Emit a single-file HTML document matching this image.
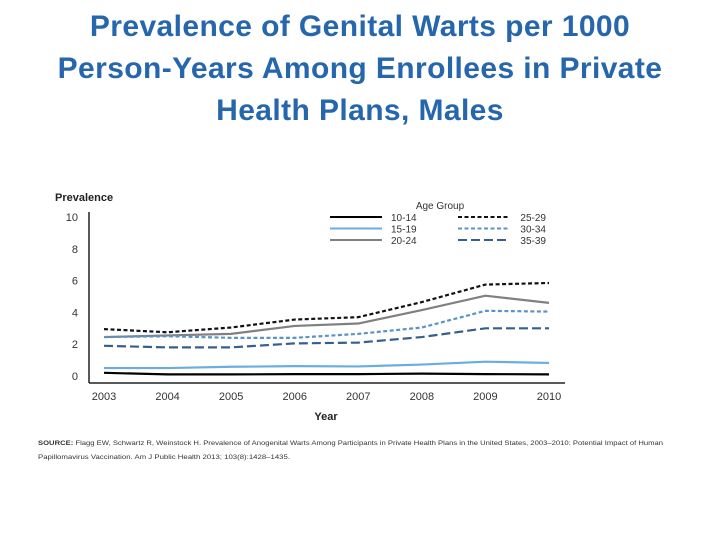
<!DOCTYPE html>
<html><head><meta charset="utf-8"><style>
body{margin:0;background:#fff;width:720px;height:540px;overflow:hidden;font-family:"Liberation Sans",sans-serif}
.t{position:absolute;left:0;width:720px;text-align:center;color:#2566ad;font-weight:bold;font-size:30px;letter-spacing:0.4px;line-height:42px;top:6px}
</style></head><body>
<div class="t">Prevalence of Genital Warts per 1000<br>Person-Years Among Enrollees in Private<br>Health Plans, Males</div>
<svg id="c" width="720" height="540" style="position:absolute;left:0;top:0"></svg>
<script>
const years=[2003,2004,2005,2006,2007,2008,2009,2010];
const yTicks=[0,2,4,6,8,10];
const s1014=[0.2,0.1,0.1,0.12,0.12,0.15,0.12,0.1];
const s1519=[0.5,0.5,0.58,0.62,0.6,0.72,0.9,0.82];
const s2024=[2.45,2.55,2.65,3.15,3.3,4.15,5.05,4.6];
const s2529=[2.95,2.75,3.05,3.55,3.7,4.65,5.75,5.85];
const s3034=[2.45,2.5,2.4,2.4,2.65,3.05,4.1,4.05];
const s3539=[1.9,1.8,1.8,2.05,2.1,2.45,3.0,3.0];
const names=["10-14","15-19","20-24","25-29","30-34","35-39"];
const NS="http://www.w3.org/2000/svg",svg=document.getElementById('c');
const X=i=>104+i*(549-104)/7, Y=v=>376-v*15.9;
function mk(t,a,txt){const e=document.createElementNS(NS,t);for(const k in a)e.setAttribute(k,a[k]);if(txt!=null)e.textContent=txt;svg.appendChild(e);return e;}
let e;
e=mk('line',{x1:89,y1:212,x2:89,y2:383,stroke:'#222','stroke-width':1.5});


e=mk('line',{x1:89,y1:383,x2:565,y2:383,stroke:'#222','stroke-width':1.5});


yTicks.forEach(v=>{e=mk('text',{x:78,y:Y(v)+4,'text-anchor':'end','font-size':11,fill:'#333'},v);

});
years.forEach((y,i)=>{e=mk('text',{x:X(i),y:400,'text-anchor':'middle','font-size':11,fill:'#333'},y);

});
e=mk('text',{x:55,y:201,'font-size':11,'font-weight':'bold',fill:'#222'},'Prevalence');


e=mk('text',{x:326,y:420,'text-anchor':'middle','font-size':11,'font-weight':'bold',fill:'#222'},'Year');


const series=[s1014,s1519,s2024,s2529,s3034,s3539];
const styles=[['#000','none'],['#6aaee0','none'],['#808080','none'],['#111','4,2.5'],['#5b93c7','4,2.5'],['#355f8c','9,4']];
series.forEach((s,k)=>{
 e=mk('polyline',{points:s.map((v,i)=>X(i)+','+Y(v)).join(' '),fill:'none',stroke:styles[k][0],'stroke-width':2.2,'stroke-dasharray':styles[k][1]});
 
 
 const col=k<3?0:1,row=k%3,ly=217+row*11.5;
 const lx=col?458:330;
 e=mk('line',{x1:lx,y1:ly,x2:lx+52,y2:ly,stroke:styles[k][0],'stroke-width':2,'stroke-dasharray':styles[k][1]});
 
 
 e=mk('text',col?{x:546,y:ly+4,'text-anchor':'end','font-size':10,fill:'#333'}:{x:391,y:ly+4,'font-size':10,fill:'#333'},names[k]);
 
 
});
e=mk('text',{x:440,y:209,'text-anchor':'middle','font-size':10,fill:'#333'},'Age Group');


e=mk('text',{x:38,y:445,'font-size':6.3,fill:'#333',textLength:625,lengthAdjust:'spacingAndGlyphs'});
e.innerHTML='<tspan font-weight="bold">SOURCE:</tspan> Flagg EW, Schwartz R, Weinstock H. Prevalence of Anogenital Warts Among Participants in Private Health Plans in the United States, 2003–2010: Potential Impact of Human';


e=mk('text',{x:38,y:459,'font-size':6.3,fill:'#333',textLength:252,lengthAdjust:'spacingAndGlyphs'},'Papillomavirus Vaccination. Am J Public Health 2013; 103(8):1428–1435.');


</script>
</body></html>
